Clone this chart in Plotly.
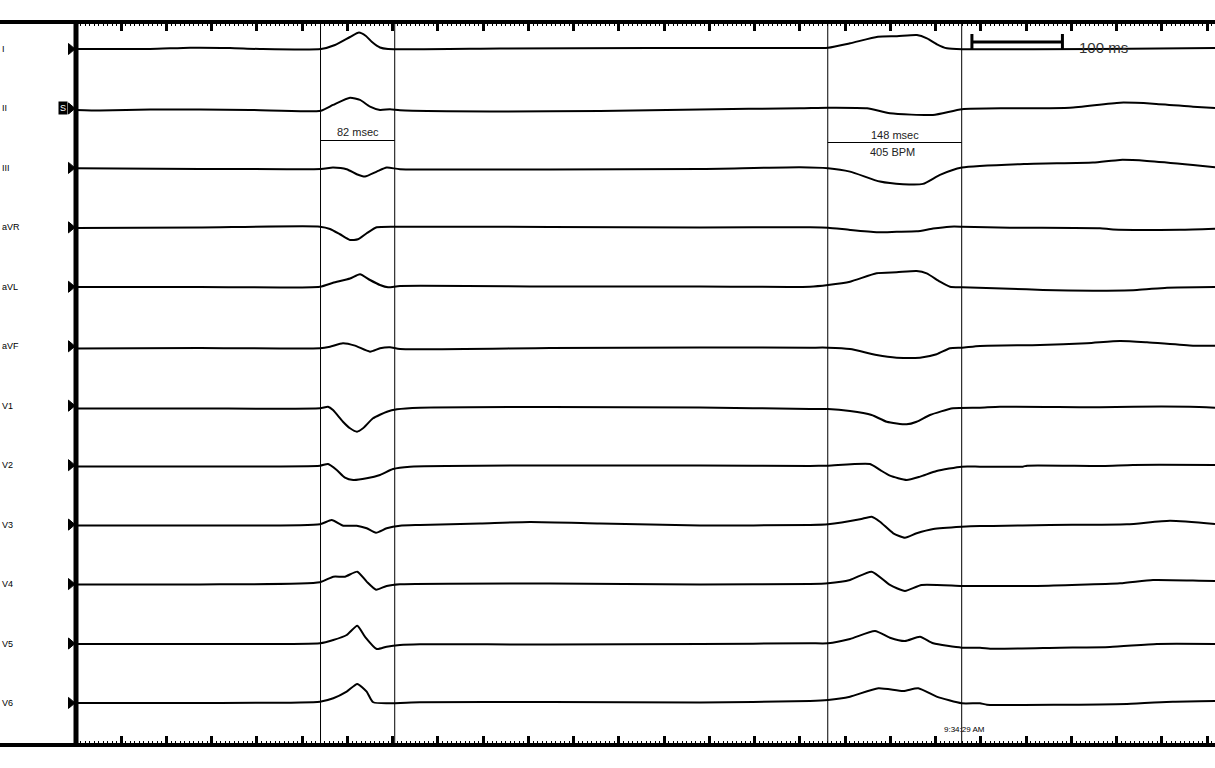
import plotly.graph_objects as go

# ---------------- data (time in ms, amplitude in display units, upward positive) ----------------
LEADS = ["I", "II", "III", "aVR", "aVL", "aVF", "V1", "V2", "V3", "V4", "V5", "V6"]

t_I = [0, 81.8, 126, 170, 203.3, 270.7, 286.2, 302.8, 312.7, 320.4, 327.1, 335.9, 344.8, 468.5, 634.3, 800,
       831, 855.3, 886.1, 907.2, 929.2, 940.3, 951.4, 962.4, 979, 1131.5, 1258.6]
a_I = [0, 0, 1.3, 1, 0, 0, 4, 12, 16.5, 13, 7, 1.5, 0, 0.5, 1, 1,
       1.3, 5.7, 12.3, 12.8, 14, 10.7, 4.7, 0.7, -0.3, 0, 1]

t_II = [0, 26.5, 81.8, 192.3, 270.7, 284.0, 302.8, 313.8, 324.9, 335.9, 347.0, 358.0, 468.5, 579.0, 689.5, 800,
        831, 874.1, 899.4, 946.9, 979, 1032, 1098.3, 1153.6, 1190.1, 1234.3, 1258.6]
a_II = [-1.5, -2, -1, -1.5, -2.2, 3.5, 10.8, 8.5, 1.8, -1.5, -0.8, -1.8, -3, -2.5, -1, 0.2,
        0.8, 0.2, -4.8, -6.5, -0.8, 0.2, 0.8, 5.8, 4.8, 1.8, 0.5]

t_III = [0, 137, 270.7, 284, 299.1, 310.2, 319.3, 332.3, 343.3, 358, 523.8, 689.5, 800,
         831, 855.3, 888.4, 913.8, 935.9, 954.7, 979, 1050.8, 1123.8, 1153.6, 1183.4, 1234.3, 1258.6]
a_III = [-0.3, -1, -1, 0.3, -1.3, -6.3, -8.7, -3.7, 0.3, -1.3, -1.5, -1, 0.7,
         -0.3, -3.7, -13.7, -16.3, -16, -7, 0.3, 4, 5.3, 8, 7, 3, 0.7]

t_aVR = [0, 137, 269.6, 280.7, 291.7, 302.8, 311.6, 321.2, 332.3, 358, 523.8, 689.5, 811.1,
         831, 855.3, 884.7, 906.9, 929, 947, 965.8, 979, 1032, 1131.5, 1145.9, 1219.9, 1258.6]
a_aVR = [-0.6, -0.1, 0.7, -1.6, -6.9, -12.6, -11.9, -5.9, 0.1, 0.7, 0.4, -0.1, 0.1,
         -0.3, -2.6, -4.8, -4.4, -4.0, -1.2, 0.7, 0.7, -0.3, -0.9, -2.1, -2.3, -1.3]

t_aVL = [0, 137, 269.6, 284, 302.8, 313.8, 324.9, 335.9, 344.8, 358, 523.8, 689.5, 811.1,
         831, 855.3, 884.7, 906.9, 928.9, 940, 954.7, 965.8, 979, 1032, 1068.5, 1123.8, 1172.4, 1205.5, 1258.6]
a_aVL = [-0.2, -0.2, 0.1, 4.0, 8.3, 12.5, 6.8, 1.8, -0.5, 0.8, 0.3, 0.3, 0.1,
         1.8, 5.1, 13.5, 14.5, 15.8, 13.5, 5.1, 0.1, -0.5, -1.9, -3.2, -3.9, -3.2, -0.9, -0.2]

t_aVF = [0, 137, 269.6, 280.7, 295, 308.3, 324.9, 335.9, 347, 358, 523.8, 689.5, 811.1,
         831, 855.3, 884.7, 906.9, 932.6, 951, 965.8, 979, 998.9, 1065.2, 1117.1, 1153.6, 1183.4, 1234.3, 1258.6]
a_aVF = [-2.2, -1.7, -2, -0.4, 3, 0.6, -5.4, -2, -1, -2.7, -1.7, -1.2, -1.4,
         -1.4, -2.7, -8.7, -11.4, -11.4, -8, -2, -1.4, 0.3, 1.3, 3, 5.3, 4, 0.6, 0.6]

t_V1 = [0, 137, 269.6, 278.5, 284, 295, 302.8, 310.5, 317.1, 328.2, 343.6, 354.7, 380.1, 523.8, 689.5, 811.1,
        831, 855.3, 879.2, 895.8, 917.9, 928.9, 943.6, 969.1, 998.9, 1021, 1131.5, 1168, 1230.9, 1258.6]
a_V1 = [-2.8, -2.8, -2.6, -1, -4.3, -16, -22.6, -26, -22.6, -12.6, -6, -3.6, -2, -1.3, -1.8, -3.3,
        -3.3, -5.3, -9.3, -16, -18.6, -16, -9.3, -2.6, -2, -1, -1.6, -1, -1, -2]

t_V2 = [0, 137, 269.6, 278.5, 288.1, 297.2, 306.4, 321.2, 335.9, 350.3, 369.1, 523.8, 689.5, 811.1,
        831, 877.3, 888.4, 899.4, 917.9, 932.6, 951, 978.7, 998.9, 1046.4, 1050.8, 1134.8, 1168, 1258.6]
a_V2 = [-1.3, -1.3, -0.5, 1.2, -4.8, -12.5, -14.8, -13.1, -9.8, -3.8, -1.5, -0.3, -0.3, -0.8,
        -0.5, 1.2, -4.8, -10.5, -14.8, -11.5, -5.8, -1.5, -1.5, -1.5, -0.5, -0.8, 0.2, 0.2]

t_V3 = [0, 137, 269.6, 282.5, 295.4, 310.2, 321.2, 331.5, 343.3, 358, 380.1, 446.4, 501.7, 579, 689.5, 811.1,
        831, 866.3, 879.2, 888.4, 903.1, 916, 928.9, 947.3, 978.7, 998.9, 1013.3, 1076.2, 1161.3, 1208.8, 1258.6]
a_V3 = [-0.9, -0.9, 0.3, 4.6, -1.1, -1.1, -3.7, -8.1, -3.7, -1.1, -0.4, 1.1, 2.6, 1.1, -0.9, -0.4,
        0.3, 5.3, 7.9, 2.9, -8.7, -13.1, -8.7, -4.4, -2.1, -1.4, -1.4, -0.4, 0.3, 3.9, 0.6]

t_V4 = [0, 137, 269.6, 284.3, 297.2, 310.8, 321.2, 331.5, 343.3, 358, 523.8, 689.5, 811.1,
        831, 855.3, 879.2, 899.4, 916, 934.4, 978.7, 998.9, 1061.9, 1153.6, 1190.1, 1242, 1258.6]
a_V4 = [-0.4, -0.4, 1.8, 7.4, 7.4, 12.4, 2.4, -5.6, -1.9, -0.2, 0.6, -0.4, 0.1,
        0.8, 4.1, 12.4, -0.9, -6.9, -0.9, -1.9, -1.9, -1.9, 0.8, 4.1, 3.4, 3.1]

t_V5 = [0, 137, 269.6, 284.3, 299.1, 310.8, 319.3, 332.3, 343.3, 358, 380.1, 523.8, 689.5, 811.1,
        831, 855.3, 882.9, 899.4, 916, 932.6, 947.3, 978.7, 998.9, 1013.3, 1087.3, 1142.5, 1194.5, 1258.6]
a_V5 = [-0.5, -0.5, 0.2, 3.5, 8.5, 17.8, 6.8, -5.5, -3.2, -1.5, -0.8, -1, -0.5, 0.2,
        0.2, 4.5, 12.5, 5.8, 2.5, 6.8, 0.2, -4.2, -4.2, -5.2, -4.2, -3.5, -0.5, -0.5]

t_V6 = [0, 137, 269.6, 284.3, 299.1, 310.8, 321.2, 328.5, 380.1, 523.8, 689.5, 811.1,
        831, 855.3, 886.6, 914.2, 930.7, 951, 978.7, 998.9, 1006.6, 1161.3, 1212.1, 1258.6]
a_V6 = [0, 0, 1.3, 4.7, 11.3, 19, 11.3, 0.7, 0.7, 1, 0.5, 2,
        3, 6.3, 14.7, 12, 14.7, 6.3, -0.3, -0.3, -1.7, -1, 1.3, 2]

TIMES = [t_I, t_II, t_III, t_aVR, t_aVL, t_aVF, t_V1, t_V2, t_V3, t_V4, t_V5, t_V6]
AMPS = [a_I, a_II, a_III, a_aVR, a_aVL, a_aVF, a_V1, a_V2, a_V3, a_V4, a_V5, a_V6]

CURSOR_A = [270.2, 352.2]
CURSOR_B = [830.7, 978.7]
CURSOR_A_TEXT = "82 msec"
CURSOR_B_TEXT = ["148 msec", "405 BPM"]
SCALE_BAR_MS = [990, 1090]
SCALE_TEXT = "100 ms"
TIMESTAMP = "9:34:29 AM"
T_MAX = 1258.6

# ---------------- layout constants ----------------
W, H = 1215, 768
ML, MT, MB = 76, 22, 23
PW = W - ML
PLOT_H = H - MT - MB
FIRST = 27.0
STEP = 59.45
FONT = "Liberation Sans, Arial, sans-serif"


def off(i):
    return -(FIRST + STEP * i)


def ypx(p):
    return -(p - MT)


def xpaper(px):
    return (px - ML) / PW


fig = go.Figure()

for i, (t, a) in enumerate(zip(TIMES, AMPS)):
    fig.add_trace(go.Scatter(
        x=t, y=[off(i) + v for v in a], mode="lines",
        line=dict(color="black", width=2, shape="spline", smoothing=0.55),
        hoverinfo="skip", showlegend=False))

shapes = []
# cursor lines
for xv in CURSOR_A + CURSOR_B:
    shapes.append(dict(type="line", xref="x", yref="paper", x0=xv, x1=xv, y0=0, y1=1,
                       line=dict(color="black", width=1)))
shapes.append(dict(type="line", xref="x", yref="y", x0=CURSOR_A[0], x1=CURSOR_A[1],
                   y0=ypx(140.5), y1=ypx(140.5), line=dict(color="black", width=1)))
shapes.append(dict(type="line", xref="x", yref="y", x0=CURSOR_B[0], x1=CURSOR_B[1],
                   y0=ypx(142.5), y1=ypx(142.5), line=dict(color="black", width=1)))
# scale bar
shapes.append(dict(type="line", xref="x", yref="y", x0=SCALE_BAR_MS[0], x1=SCALE_BAR_MS[1],
                   y0=ypx(42), y1=ypx(42), line=dict(color="black", width=3)))
for xv in SCALE_BAR_MS:
    shapes.append(dict(type="line", xref="x", yref="y", x0=xv, x1=xv,
                       y0=ypx(34), y1=ypx(50), line=dict(color="black", width=3)))
# frame lines
lx = xpaper(0)
shapes.append(dict(type="line", xref="paper", yref="paper", x0=lx, x1=1, y0=1, y1=1,
                   line=dict(color="black", width=4)))
shapes.append(dict(type="line", xref="paper", yref="paper", x0=lx, x1=1, y0=0, y1=0,
                   line=dict(color="black", width=4)))
shapes.append(dict(type="line", xref="paper", yref="paper", x0=0, x1=0, y0=0, y1=1,
                   line=dict(color="black", width=5)))
# lead marker triangles at the left axis
for i in range(len(LEADS)):
    y0 = off(i)
    path = "M {a},{b} L {c},{d} L {a},{e} Z".format(
        a=xpaper(68.5), b=y0 + 5.5, c=xpaper(75), d=y0, e=y0 - 5.5)
    shapes.append(dict(type="path", xref="paper", yref="y", path=path,
                       fillcolor="black", line=dict(color="black", width=1)))

annotations = []
for i, name in enumerate(LEADS):
    annotations.append(dict(xref="paper", yref="y", x=lx, y=off(i), text=name, showarrow=False,
                            xanchor="left", yanchor="middle", font=dict(size=9, color="black", family=FONT)))
# "S" badge on lead II
annotations.append(dict(xref="paper", yref="y", x=xpaper(68), y=off(1) + 0.5, text="S", showarrow=False,
                        xanchor="right", yanchor="middle", bgcolor="black", borderpad=1,
                        font=dict(size=9, color="white", family=FONT)))
annotations.append(dict(xref="x", yref="y", x=sum(CURSOR_A) / 2, y=ypx(132), text=CURSOR_A_TEXT,
                        showarrow=False, font=dict(size=11, color="#222", family=FONT)))
annotations.append(dict(xref="x", yref="y", x=sum(CURSOR_B) / 2, y=ypx(135), text=CURSOR_B_TEXT[0],
                        showarrow=False, font=dict(size=11, color="#222", family=FONT)))
annotations.append(dict(xref="x", yref="y", x=sum(CURSOR_B) / 2 - 2, y=ypx(152), text=CURSOR_B_TEXT[1],
                        showarrow=False, font=dict(size=11, color="#222", family=FONT)))
annotations.append(dict(xref="x", yref="y", x=SCALE_BAR_MS[1] + 16, y=ypx(47), text=SCALE_TEXT,
                        showarrow=False, xanchor="left", font=dict(size=15, color="#333", family=FONT)))
annotations.append(dict(xref="x", yref="y", x=982, y=ypx(729), text=TIMESTAMP,
                        showarrow=False, font=dict(size=8, color="black", family=FONT)))

fig.update_layout(
    width=W, height=H, margin=dict(l=ML, r=0, t=MT, b=MB),
    paper_bgcolor="white", plot_bgcolor="white",
    shapes=shapes, annotations=annotations,
    xaxis=dict(range=[0, T_MAX], showgrid=False, zeroline=False, showline=False,
               mirror="allticks", ticks="inside", tick0=0, dtick=50, ticklen=9, tickwidth=3,
               tickcolor="black", showticklabels=False,
               minor=dict(ticks="inside", dtick=5, ticklen=4, tickwidth=1, tickcolor="black")),
    yaxis=dict(range=[-PLOT_H, 0], showgrid=False, zeroline=False, showline=False,
               showticklabels=False, ticks=""),
)

fig.write_html("out.html")
